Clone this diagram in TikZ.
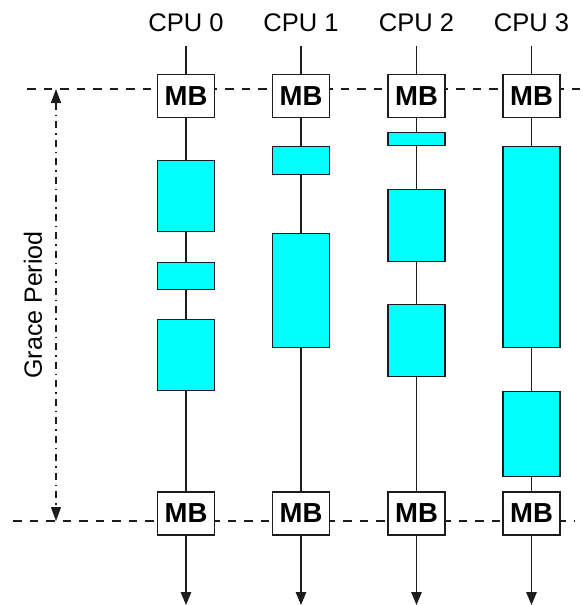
\documentclass[tikz,border=0pt]{standalone}
\usepackage{fontspec}
\setmainfont{Liberation Sans}
\usepackage{tikz}
\usetikzlibrary{arrows.meta}
\definecolor{ink}{HTML}{1C1C1C}
\definecolor{crit}{HTML}{00FFFF}
\tikzset{
  cpulabel/.style={font=\fontsize{25.5}{30}\selectfont, inner sep=0pt, outer ysep=14pt},
  mb/.style      ={draw=ink, line width=1.3pt, fill=white, inner sep=0pt,
                   minimum width=57pt, minimum height=43pt,
                   font=\fontsize{27.5}{32}\selectfont\bfseries},
  cs/.style      ={draw=ink, line width=1.3pt, fill=crit, inner sep=0pt,
                   minimum width=57pt, minimum height=#1},
  cpuline/.style ={draw=ink, line width=1.3pt},
  cpuarrow/.style={cpuline, -{Triangle[length=13pt,width=10.5pt]}},
  gpline/.style  ={draw=ink, line width=1.3pt, dash pattern=on 8.5pt off 8pt},
  gparrow/.style ={draw=ink, line width=1.3pt, dash pattern=on 7pt off 5pt on 1.5pt off 5pt,
                   {Triangle[length=14pt,width=10pt]}-{Triangle[length=14pt,width=10pt]}},
  gplabel/.style ={font=\fontsize{25}{30}\selectfont, rotate=90, inner sep=0pt}
}

\begin{document}
\begin{tikzpicture}[x=1pt, y=-1pt]
  \useasboundingbox (0,0) rectangle (583,605);

  \coordinate (dtl) at (27,89);
  \coordinate (dtr) at (583,89);
  \coordinate (dbl) at (13,521);
  \coordinate (dbr) at (575,521);
  \draw[gpline] (dtl) -- (dtr);
  \draw[gpline] (dbl) -- (dbr);

  \coordinate (gpt) at (56,89);
  \coordinate (gpb) at (56,521);
  \draw[gparrow] (gpt) -- (gpb);
  \node[gplabel] (gp) at (33,305) {Grace Period};

  \node[cpulabel] (cpu0) at (186,22.5)   {CPU 0};
  \node[cpulabel] (cpu1) at (301,22.5)   {CPU 1};
  \node[cpulabel] (cpu2) at (416.5,22.5) {CPU 2};
  \node[cpulabel] (cpu3) at (531.5,22.5) {CPU 3};

  \node[mb] (mbt0) at (186,96)   {MB};
  \node[mb] (mbt1) at (301,96)   {MB};
  \node[mb] (mbt2) at (416.5,96) {MB};
  \node[mb] (mbt3) at (531.5,96) {MB};

  \node[mb] (mbb0) at (186,513.5)   {MB};
  \node[mb] (mbb1) at (301,513.5)   {MB};
  \node[mb] (mbb2) at (416.5,513.5) {MB};
  \node[mb] (mbb3) at (531.5,513.5) {MB};

  \node[cs=71pt]  (cs0a) at (186,196) {};
  \node[cs=27pt]  (cs0b) at (186,276) {};
  \node[cs=71pt]  (cs0c) at (186,355) {};

  \node[cs=28pt]  (cs1a) at (301,160.5) {};
  \node[cs=114pt] (cs1b) at (301,290.5) {};

  \node[cs=13pt]  (cs2a) at (416.5,139)   {};
  \node[cs=72pt]  (cs2b) at (416.5,225.5) {};
  \node[cs=72pt]  (cs2c) at (416.5,340.5) {};

  \node[cs=201pt] (cs3a) at (531.5,247) {};
  \node[cs=85pt]  (cs3b) at (531.5,434) {};

  \coordinate (end0) at (186,605);
  \coordinate (end1) at (301,605);
  \coordinate (end2) at (416.5,605);
  \coordinate (end3) at (531.5,605);

  \draw[cpuline] (cpu0) -- (mbt0) -- (cs0a) -- (cs0b) -- (cs0c) -- (mbb0);
  \draw[cpuline] (cpu1) -- (mbt1) -- (cs1a) -- (cs1b) -- (mbb1);
  \draw[cpuline] (cpu2) -- (mbt2) -- (cs2a) -- (cs2b) -- (cs2c) -- (mbb2);
  \draw[cpuline] (cpu3) -- (mbt3) -- (cs3a) -- (cs3b) -- (mbb3);

  \draw[cpuarrow] (mbb0) -- (end0);
  \draw[cpuarrow] (mbb1) -- (end1);
  \draw[cpuarrow] (mbb2) -- (end2);
  \draw[cpuarrow] (mbb3) -- (end3);
\end{tikzpicture}
\end{document}
